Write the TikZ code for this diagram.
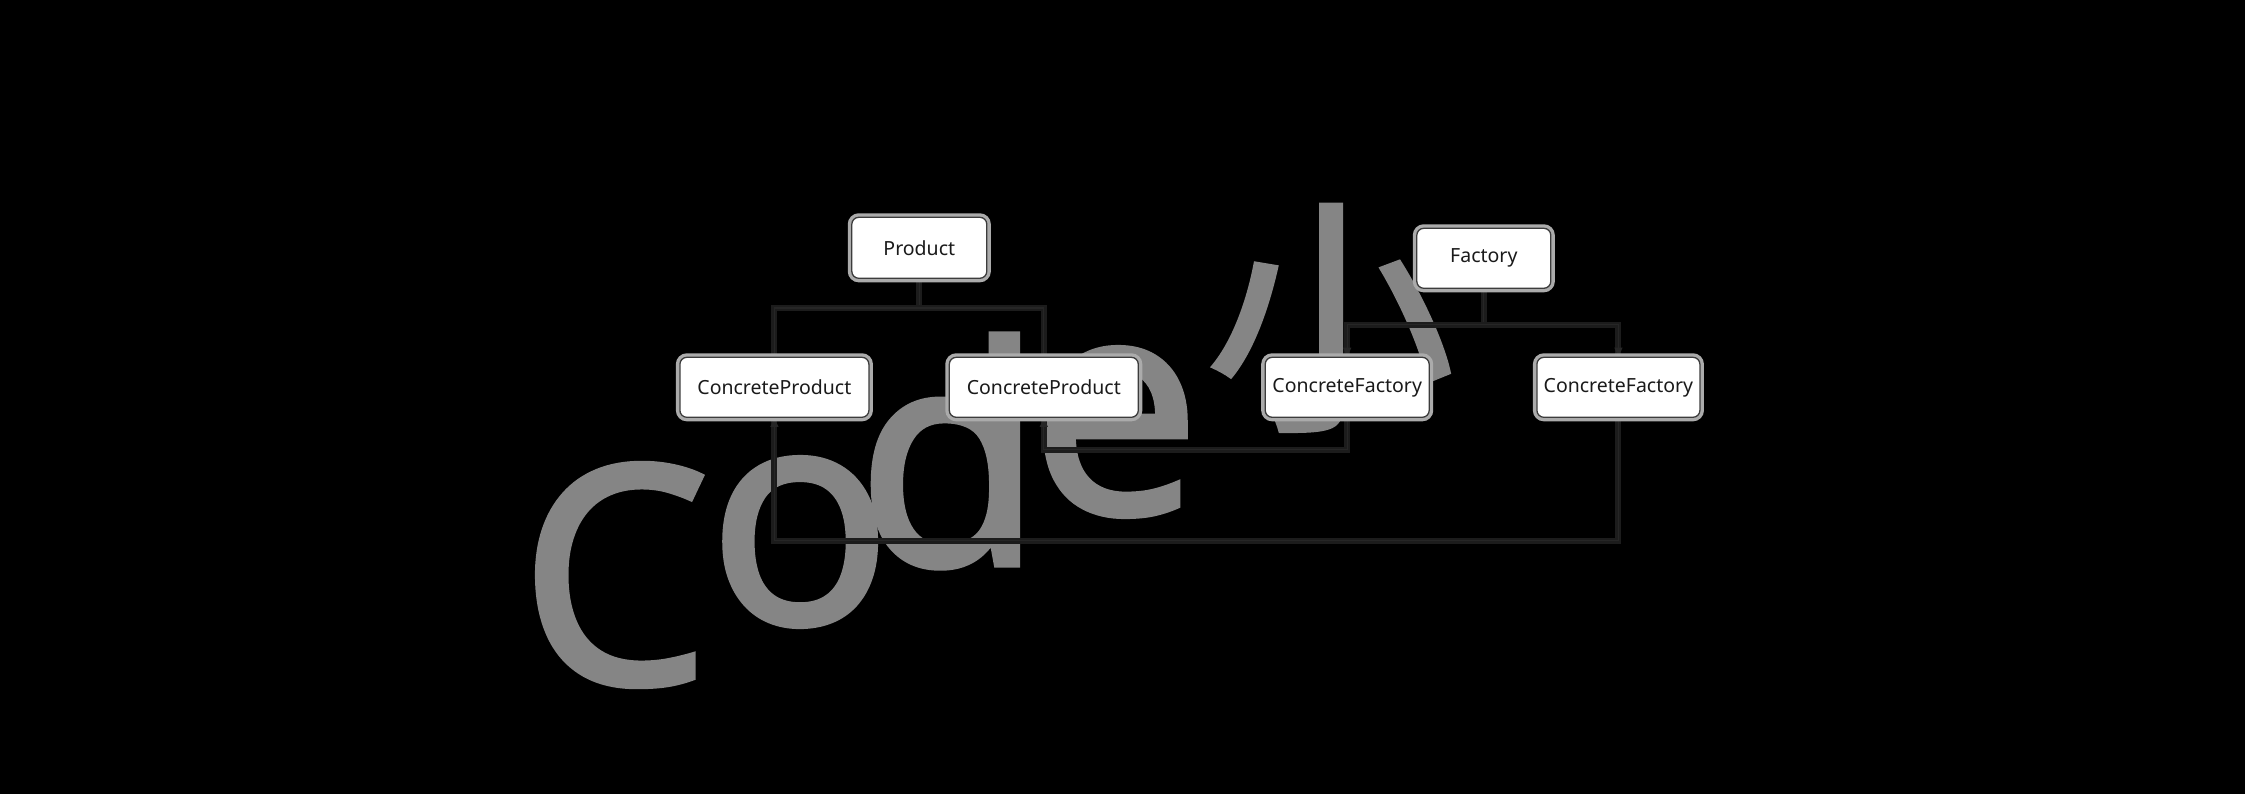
\documentclass[tikz,border=0pt]{standalone}
\usepackage{fontspec}
\setmainfont{Noto Sans}
\newfontfamily\wmlatin[FakeBold=1.5]{Noto Sans}
\newfontfamily\wmcjk[FakeBold=1.5]{Noto Sans CJK SC}
\usetikzlibrary{arrows.meta}
\definecolor{halo}{HTML}{ABABAB}
\definecolor{edge}{HTML}{3C3C3C}
\definecolor{wire}{HTML}{262626}
\definecolor{glow}{HTML}{1C1C1C}
\definecolor{wmgray}{HTML}{858585}
\definecolor{ink}{HTML}{1A1A1A}
\pgfdeclarelayer{bg}
\pgfdeclarelayer{wm}
\pgfdeclarelayer{ln}
\pgfsetlayers{bg,wm,ln,main}
\begin{document}
\begin{tikzpicture}[x=1pt,y=-1pt,
  umlbox/.style={draw=edge, line width=1.3pt, fill=white, rounded corners=7pt,
    inner sep=0pt, text=ink, font=\fontsize{19.5}{22}\selectfont,
    minimum height=60pt, preaction={draw=halo, line width=8pt}},
  conn/.style={draw=wire, line width=1.3pt, preaction={draw=glow, line width=6pt, arrows=-}},
  tip/.style={-{Triangle[width=8pt,length=9pt]}},
  wmtxt/.style={text=wmgray, inner sep=0pt, font=\wmlatin\fontsize{305}{305}\selectfont}]
\begin{pgfonlayer}{bg}
\fill[black] (0,0) rectangle (2245,794);
\end{pgfonlayer}
\useasboundingbox (0,0) rectangle (2245,794);
% watermark
\begin{pgfonlayer}{wm}
\node[wmtxt] (wC) at (615,575) {C};
\node[wmtxt] (wo) at (800,542) {o};
\node[wmtxt] (wd) at (950,451) {d};
\node[wmtxt] (we) at (1115,432) {e};
\node[wmtxt, font=\wmcjk\fontsize{250}{250}\selectfont] (wx) at (1330,318) {小};
\end{pgfonlayer}
% nodes
\node[umlbox, minimum width=135pt, minimum height=61pt] (P) at (919.3,247.8) {Product};
\node[umlbox, minimum width=189pt] (CP1) at (774.4,387.3) {ConcreteProduct};
\node[umlbox, minimum width=189pt] (CP2) at (1043.8,387.3) {ConcreteProduct};
\node[umlbox, minimum width=134pt] (F) at (1483.8,258.3) {Factory};
\node[umlbox, minimum width=164pt] (CF1) at (1347.2,387.3) {ConcreteFactory};
\node[umlbox, minimum width=163pt] (CF2) at (1618.4,387.3) {ConcreteFactory};
\coordinate (pj) at ([yshift=-29pt]P.south);
\coordinate (fj) at ([yshift=-35.7pt]F.south);
\coordinate (c1) at ([yshift=-31.7pt]CF1.south);
\coordinate (c2) at ([yshift=-122.7pt]CF2.south);
% connectors
\begin{pgfonlayer}{ln}
\draw[conn] (P.south) -- (pj);
\draw[conn] (CP1.north) |- (pj) -| (CP2.north);
\draw[conn] (F.south) -- (fj);
\draw[conn, tip] (fj) -| (CF1.north);
\draw[conn, tip] (fj) -| (CF2.north);
\draw[conn, tip] (CF1.south) -- (c1) -| (CP2.south);
\draw[conn, tip] (CF2.south) -- (c2) -| (CP1.south);
\end{pgfonlayer}
\end{tikzpicture}
\end{document}
